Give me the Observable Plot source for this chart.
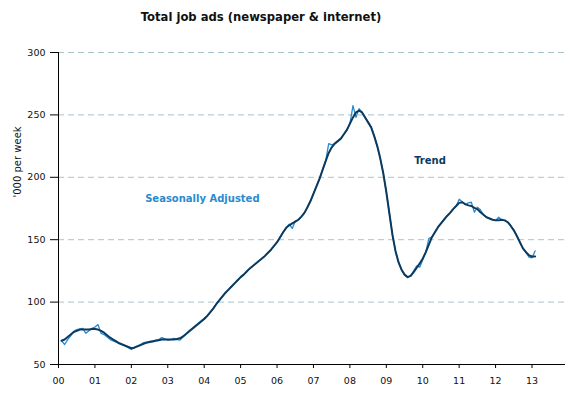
<!DOCTYPE html>
<html><head><meta charset="utf-8">
<script src="https://cdn.jsdelivr.net/npm/d3@7"></script>
<script src="https://cdn.jsdelivr.net/npm/@observablehq/plot@0.6"></script>
<style>
body{margin:0;background:#fff;font-family:"DejaVu Sans",Verdana,sans-serif;}
#title{height:34px;line-height:34px;text-align:center;font-weight:bold;font-size:11.6px;color:#111;width:578px;box-sizing:border-box;padding-right:56px;}
</style></head>
<body>
<div id="title">Total job ads (newspaper &amp; internet)</div>
<div id="chart"></div>
<script>
// Monthly series, first month = Feb 2000
const startYear = 2000;
const startMonth = 1; // Feb (0-based)
const seasonallyAdjusted = [
 69,66,70,73,76.5,78,78.5,79,75,77,79,80,82,75,74,72,70,69,68,67,66,65,63.5,62,
 64,65,66,67.5,68,68.5,69,69.5,70,71.5,70.5,69.5,70,71,70,69.5,72,74.5,77,79,81,83,85,87,
 89,92,95,98.5,101.5,104.5,107.5,110,112.5,115,117.5,120,122,124.5,127,129,131,133,135,137,139.5,142,145,148,
 152,156,159.5,162.5,159,165,166,168.5,171.5,176,181,187,193,199,206,213,227,226,227,229,231,234.5,238,243,
 257.5,248,255,252,248,244,240,233,225,215,203,188,171,154,141,132,126,122,120,121,125,129,128,134,
 140,151,152,156,160,163,166,169,171.5,174.5,177,182.5,180.5,178,179.5,180,172,176,174,170,168,167,166,165.5,
 168,166,165.5,164,161,157.5,153,148,143,140,136,135.5,141
];
const trend = [
 69,70,72,74,76,77,78,78,78,78,78.5,78.5,78,77,75.5,73.5,71.5,70,68.5,67,66,65,64,63,
 63.5,64.5,65.5,66.5,67.5,68,68.5,69,69.5,70,70,70,70,70,70.5,71,72.5,74.5,76.5,78.5,80.5,82.5,84.5,86.5,
 89,92,95,98.5,101.5,104.5,107.5,110,112.5,115,117.5,120,122,124.5,127,129,131,133,135,137,139.5,142,145,148,
 152,156,159.5,161.5,163,164.5,166,168.5,171.5,176,181,187,193,199,206,213,219.5,224,227,229,231,234.5,238,243,
 248,252,253.5,252,248,244,240,233,225,215,203,188,171,154,141,132,126,122,120,121,124,127.5,131,135,
 140,146,152,156,160,163,166,169,171.5,174.5,177,179.5,180,178.5,177.5,177,175.5,174.5,172,170,168,167,166,165.5,
 165.5,166,165.5,164,161,157.5,153,148,143,140,137.5,136.5,136.5
];
const yTicks = [50,100,150,200,250,300];
const xTicks = d3.range(2000, 2014);
const seriesLabels = [
  {name:"Seasonally Adjusted", x:2003.95, y:183},
  {name:"Trend", x:2010.2, y:213}
];

const toRows = arr => arr.map((v,i)=>({t: startYear + (startMonth + i)/12 + 0.5/12 - 0.04, v}));
const saRows = toRows(seasonallyAdjusted);
const trRows = toRows(trend);

const saColor = "#2a8ad0";
const trColor = "#0c3a5e";

const chart = Plot.plot({
  width: 578,
  height: 362,
  marginTop: 18,
  marginBottom: 32,
  marginLeft: 58,
  marginRight: 13,
  style: {fontFamily: '"DejaVu Sans", Verdana, sans-serif', fontSize: "9.5px", color:"#111"},
  x: {domain:[2000, 2013.92]},
  y: {domain:[50, 300]},
  marks: [
    Plot.ruleY(yTicks.filter(d=>d>50), {stroke:"#a9c3cc", strokeDasharray:"6,4", strokeWidth:1}),
    Plot.axisY({ticks: yTicks, tickSize: 8, tickPadding: 5, label: null, stroke:"#000"}),
    Plot.axisX({ticks: xTicks, tickSize: 4, tickPadding: 9, label: null, stroke:"#000",
      tickFormat: d => String(d % 100).padStart(2,"0")}),
    Plot.ruleX([2000], {stroke:"#000"}),
    Plot.ruleY([50], {stroke:"#000"}),
    Plot.line(saRows, {x:"t", y:"v", stroke: saColor, strokeWidth:1.3}),
    Plot.line(trRows, {x:"t", y:"v", stroke: trColor, strokeWidth:2}),
    Plot.text(seriesLabels, {x:"x", y:"y", text:"name", fill:(d)=> d.name==="Trend"? trColor : saColor,
      fontWeight:"bold", fontSize:10}),
    Plot.text(["'000 per week"], {frameAnchor:"left", dx:-41, dy:-11, rotate:-90, fontSize:10, fill:"#111"})
  ]
});
document.getElementById("chart").appendChild(chart);
</script>
</body></html>
